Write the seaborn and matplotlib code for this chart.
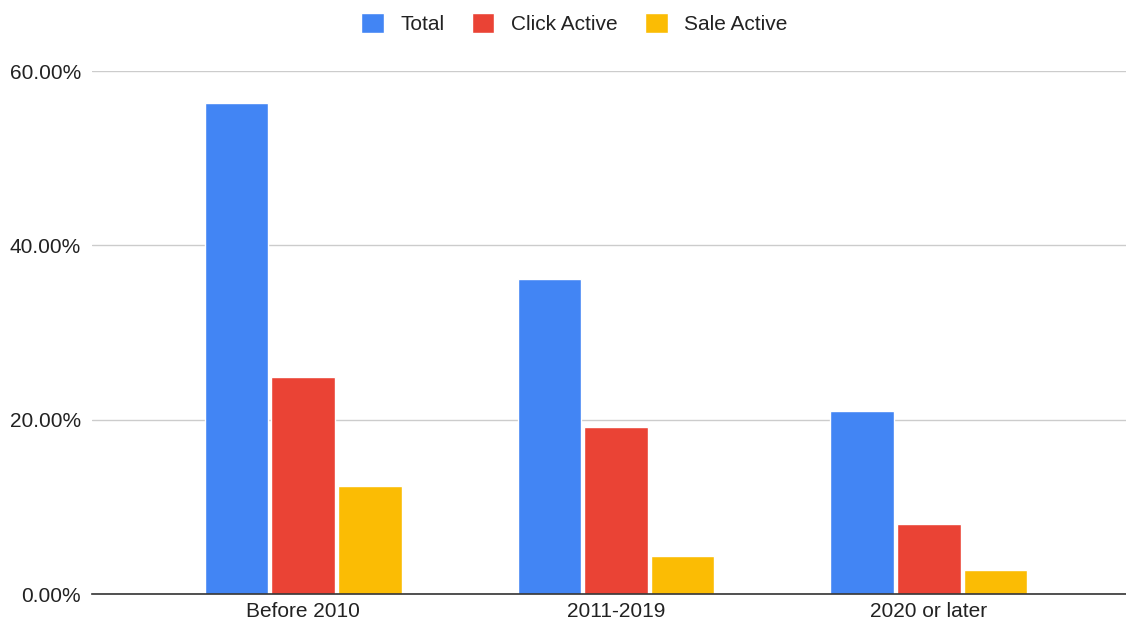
import pandas as pd
import seaborn as sns
import matplotlib.pyplot as plt
from matplotlib.ticker import FuncFormatter

categories = ['Before 2010', '2011-2019', '2020 or later']
series = ['Total', 'Click Active', 'Sale Active']
total = [56.3, 36.1, 21.0]
click_active = [24.9, 19.2, 8.0]
sale_active = [12.4, 4.4, 2.7]
colors = ['#4285F4', '#EA4335', '#FBBC04']

rows = []
for name, vals in zip(series, [total, click_active, sale_active]):
    for cat, v in zip(categories, vals):
        rows.append({'period': cat, 'group': name, 'value': v})
data = pd.DataFrame(rows)

sns.set_theme(style='white')
plt.rcParams['font.family'] = ['Liberation Sans', 'DejaVu Sans']

fig = plt.figure(figsize=(11.26, 6.23), dpi=100)
ax = fig.add_axes([0.082, 0.0465, 0.918, 0.8395])

sns.barplot(data=data, x='period', y='value', hue='group', hue_order=series,
            order=categories, palette=colors, width=0.64, gap=0.05,
            saturation=1, ax=ax, legend=True)

ax.set_ylim(0, 60)
ax.set_xlim(-0.674, 2.63)
ax.set_yticks([0, 20, 40, 60])
ax.yaxis.set_major_formatter(FuncFormatter(lambda v, p: f'{v:.2f}%'))
ax.grid(axis='y', color='#cccccc', linewidth=1)
ax.set_axisbelow(True)
for s in ['top', 'right', 'left']:
    ax.spines[s].set_visible(False)
ax.spines['bottom'].set_color('#333333')
ax.spines['bottom'].set_linewidth(1.2)
ax.tick_params(axis='both', length=0, labelsize=15, labelcolor='#222222')
ax.tick_params(axis='y', pad=8)
ax.tick_params(axis='x', pad=6)
ax.set_xlabel('')
ax.set_ylabel('')

handles, labels = ax.get_legend_handles_labels()
ax.get_legend().remove()
fig.legend(handles, labels, loc='upper center', bbox_to_anchor=(0.51, 1.01),
           ncol=3, frameon=False, fontsize=15, handlelength=1.1,
           handleheight=1.1, handletextpad=0.8, columnspacing=1.3,
           labelcolor='#222222')

plt.savefig('out.png', dpi=100)
